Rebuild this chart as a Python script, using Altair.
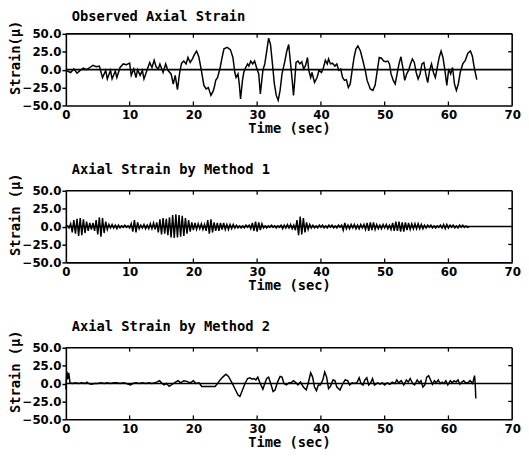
import altair as alt
import pandas as pd

TITLES = ["Observed Axial Strain", "Axial Strain by Method 1", "Axial Strain by Method 2"]
Y_TITLES = ["Strain(\u03bc)", "Strain (\u03bc)", "Strain (\u03bc)"]
X_TITLE = "Time (sec)"
X_TICKS = [0, 10, 20, 30, 40, 50, 60, 70]
Y_TICKS = [-50, -25, 0, 25, 50]
INNER_X_TICKS = [10, 20, 30, 40, 50, 60]
INNER_Y_TICKS = [-25, 25]

# Observed axial strain (time in sec, strain in micro)
obs_t = [0, 0.75, 1.25, 1.75, 2.25, 2.75, 3.25, 3.75, 4.25, 4.75,
         5.25, 5.75, 6.25, 6.5, 7.0, 7.25, 7.75, 8.0, 8.5, 9.0,
         9.5, 10.0, 10.25, 10.65, 11.0, 11.25, 11.65, 12.0, 12.25, 12.75,
         13.15, 13.5, 13.85, 14.15, 14.5, 14.75, 15.25, 15.65, 16.0, 16.5,
         16.85, 17.15, 17.5, 17.85, 18.15, 18.5, 18.85, 19.15, 19.5, 19.85,
         20.15, 20.5, 20.85, 21.25, 21.65, 22.0, 22.35, 22.75, 23.1, 23.3,
         23.5, 23.8, 24.2, 24.5, 24.8, 25.3, 25.8, 26.2, 26.5, 26.7,
         27.0, 27.2, 27.4, 27.7, 27.9, 28.2, 28.5, 28.7, 29.0, 29.3,
         29.6, 29.9, 30.25, 30.5, 30.9, 31.2, 31.5, 31.8, 32.1, 32.4,
         32.7, 33.0, 33.3, 33.6, 33.9, 34.35, 34.65, 34.95, 35.2, 35.5,
         35.7, 35.9, 36.1, 36.4, 36.7, 37.0, 37.3, 37.6, 37.9, 38.1,
         38.4, 38.6, 39.0, 39.4, 39.7, 40.1, 40.4, 40.7, 41.0, 41.2,
         41.5, 41.8, 42.2, 42.5, 42.8, 43.1, 43.4, 43.7, 44.0, 44.3,
         44.6, 44.9, 45.2, 45.5, 45.8, 46.2, 46.6, 47.0, 47.25, 47.75,
         48.15, 48.5, 48.85, 49.15, 49.5, 49.85, 50.15, 50.5, 50.75, 51.0,
         51.35, 51.65, 51.95, 52.25, 52.55, 52.85, 53.15, 53.45, 53.75, 54.05,
         54.35, 54.65, 54.95, 55.25, 55.55, 55.85, 56.15, 56.45, 56.75, 57.05,
         57.35, 57.65, 57.95, 58.25, 58.55, 58.85, 59.15, 59.45, 59.75, 60.05,
         60.35, 60.65, 60.95, 61.25, 61.55, 61.85, 62.25, 62.65, 63.05, 63.45,
         63.75, 64.05, 64.45]
obs_v = [-1, -4, 1, -5, -1, 2, 0, 3, 6, 4,
         5, -11, -1, -13, -1, -13, -2, -11, 3, 8,
         7, 9, -8, 1, -11, 0, -8, -1, -13, 0,
         10, 3, 13, 4, 1, 8, -4, 8, -1, -6,
         -20, -8, -28, -4, 9, 12, 8, 17, 10, 15,
         21, 26, 18, -1, -22, -27, -25, -36, -30, -24,
         -15, -11, 3, 17, 29, 31, 28, 17, -4, -11,
         -6, -20, -41, -15, -4, 3, 8, 5, 12, 8,
         12, 3, -6, -34, -1, 8, 26, 44, 35, 8,
         -20, -36, -43, -29, -6, 12, 26, 35, 12, -15,
         -36, -15, 10, 12, 8, 11, 1, 6, 17, -1,
         -11, -4, -18, -11, -1, -4, 3, 13, 8, 15,
         8, 9, 5, 8, -1, 1, -11, -15, -14, -25,
         -20, -1, 17, 29, 33, 26, 12, -3, -15, -27,
         -29, -22, -1, 17, 16, 12, 11, 12, 8, -6,
         -15, -20, -6, 8, 18, 3, -15, -6, -1, 8,
         15, 10, -4, -13, -6, 8, 10, -6, -18, -1,
         8, -4, -11, 3, 17, 26, 17, -1, -22, 1,
         -6, 3, -20, -29, -20, -4, 8, 13, 23, 26,
         19, 3, -14]

# Method 1: sampled every 0.25 sec (four samples per second)
m1_step = 0.25
m1_v = [0, 1, -2, 4,   -8, 9, -10, 11,   -13, 12, -12, 10,   -9, 7, -6, 5,
        -4, 5, -6, 9,   -11, 13, -14, 12,   -9, 7, -4, 3,   -2, 3, -2, 2,
        -3, 2, -2, 1,   -1, 2, -1, 1,   -2, 4, -7, 9,   -8, 6, -3, 2,
        -2, 3, -3, 2,   -3, 4, -3, 5,   -4, 6, -8, 10,   -11, 12, -10, 11,
        -12, 13, -15, 16,   -16, 17, -15, 16,   -14, 15, -13, 12,   -10, 9, -7, 6,
        -5, 5, -4, 4,   -3, 4, -4, 3,   -6, 9, -10, 10,   -8, 6, -6, 5,
        -6, 5, -4, 5,   -4, 3, -4, 3,   -3, 3, -2, 2,   -2, 1, -2, 1,
        -2, 2, -1, 2,   -3, 5, -6, 7,   -7, 6, -5, 4,   -2, 1, -2, 1,
        -1, 2, -1, 1,   -2, 1, -1, 2,   -3, 2, -2, 3,   -2, 3, -3, 2,
        -5, 9, -12, 14,   -11, 12, -8, 6,   -4, 3, -2, 2,   -2, 1, -2, 2,
        -1, 2, -2, 1,   -2, 2, -1, 2,   -2, 1, -2, 2,   -1, 2, -5, 5,
        -3, 2, -3, 3,   -2, 3, -3, 2,   -3, 3, -2, 3,   -4, 5, -6, 6,
        -5, 6, -4, 3,   -3, 2, -3, 3,   -2, 3, -3, 2,   -4, 5, -6, 7,
        -6, 7, -7, 6,   -7, 6, -5, 5,   -4, 4, -3, 4,   -3, 4, -3, 3,
        -3, 2, -2, 2,   -1, 2, -2, 1,   -2, 1, -1, 2,   -2, 3, -3, 3,
        -2, 2, -1, 2,   -2, 1, -2, 2,   -1, 2, -1, 1,   -1, 0]
m1_t = [i * m1_step for i in range(len(m1_v))]

# Method 2
m2_t = [0, 0.15, 0.3, 0.45, 0.65, 1.0, 1.5, 2.0, 2.5, 3.0,
        3.3, 3.6, 4.0, 4.5, 5.0, 5.5, 6.0, 6.5, 7.0, 7.5,
        8.0, 8.5, 9.0, 9.5, 10.1, 10.5, 11.0, 11.5, 12.0, 12.5,
        13.0, 13.5, 14.0, 14.7, 15.1, 15.4, 15.8, 16.2, 16.7, 17.2,
        17.6, 18.0, 18.5, 19.0, 19.5, 20.0, 20.4, 20.9, 21.3, 21.7,
        22.3, 22.9, 23.4, 23.8, 24.1, 24.6, 25.1, 25.5, 26.0, 26.5,
        27.0, 27.3, 27.7, 28.1, 28.5, 28.9, 29.2, 29.5, 29.8, 30.1,
        30.4, 30.6, 30.9, 31.2, 31.5, 31.8, 32.2, 32.5, 32.8, 33.2,
        33.6, 33.9, 34.2, 34.6, 35.0, 35.3, 35.7, 36.1, 36.4, 36.8,
        37.25, 37.7, 38.0, 38.4, 38.7, 39.0, 39.3, 39.6, 39.9, 40.3,
        40.6, 40.9, 41.2, 41.5, 41.9, 42.2, 42.5, 43.0, 43.4, 43.8,
        44.2, 44.5, 44.9, 45.3, 45.7, 46.0, 46.3, 46.6, 46.9, 47.2,
        47.5, 47.8, 48.1, 48.4, 48.9, 49.3, 49.6, 50.0, 50.4, 50.8,
        51.2, 51.6, 51.9, 52.2, 52.6, 53.0, 53.4, 53.7, 54.0, 54.4,
        54.7, 55.1, 55.4, 55.7, 56.0, 56.3, 56.6, 56.9, 57.2, 57.5,
        57.8, 58.1, 58.4, 58.7, 59.0, 59.3, 59.6, 59.9, 60.3, 60.6,
        60.9, 61.2, 61.5, 61.8, 62.1, 62.4, 62.7, 63.05, 63.4, 63.8,
        64.1, 64.2, 64.3]
m2_v = [-8, 17, 6, 15, 1, 0, 1, 0, 1, 0,
        2, 0, -1, 0, 0, 1, 0, 1, 0, 1,
        1, 0, 1, 0, -2, 0, 1, 0, 1, 0,
        1, 0, 1, 4, 0, -2, 0, -4, -1, 2,
        4, 1, 4, 3, 1, 4, 0, 1, -4, -4,
        -4, -4, -4, 0, 4, 9, 13, 10, 2, -7,
        -16, -18, -9, 0, 7, 8, 6, 7, 5, 9,
        2, -2, -8, 0, 7, 9, -2, -11, -9, 2,
        10, 9, 0, -2, 1, 1, 4, 1, -2, 2,
        -5, -9, 0, 15, 9, -5, -10, -2, -2, 5,
        16, 9, -7, -4, 5, 4, -5, -9, -1, 5,
        4, -2, 1, 0, 2, 8, 0, -2, 5, 8,
        -2, 1, 7, -2, 1, -1, 1, -2, 1, -1,
        2, 0, 5, 1, 4, -2, 5, 2, 7, 0,
        -2, 5, 1, 4, -5, -2, 9, 11, 5, -1,
        4, 1, 5, 0, 2, 0, 4, -2, 4, 1,
        4, 2, 5, -1, 2, 4, 1, 1, 4, 0,
        11, 0, -21]

assert len(obs_t) == len(obs_v), (len(obs_t), len(obs_v))
assert len(m2_t) == len(m2_v), (len(m2_t), len(m2_v))

W, H = 455, 73
MONO = "DejaVu Sans Mono"
SANS = "DejaVu Sans"
BORDER = 1.6


def panel(ts, vs, title, ytitle):
    df = pd.DataFrame({"t": ts, "v": vs})
    x = alt.X("t:Q", scale=alt.Scale(domain=[0, 70], nice=False, zero=False),
              axis=alt.Axis(values=X_TICKS, title=X_TITLE, grid=False, domain=True,
                            domainColor="black", domainWidth=BORDER,
                            tickSize=0, labelPadding=4, labelFlush=False, labelOverlap=False,
                            labelFont=SANS, labelFontSize=12, labelFontWeight="bold",
                            labelColor="black", titleFont=MONO, titleFontSize=14,
                            titleFontWeight="bold", titleColor="black", titlePadding=2))
    y = alt.Y("v:Q", scale=alt.Scale(domain=[-50, 50], nice=False),
              axis=alt.Axis(values=Y_TICKS, format=".1f", title=ytitle, grid=False,
                            domain=True, domainColor="black", domainWidth=BORDER,
                            tickSize=4, tickWidth=1.5, tickColor="black",
                            labelPadding=1, labelFont=SANS, labelFontSize=12,
                            labelFontWeight="bold", labelColor="black", labelFlush=False,
                            labelOverlap=False, titleFont=MONO, titleFontSize=14,
                            titleFontWeight="bold", titleColor="black", titlePadding=0,
                            titleY=24))
    line = alt.Chart(df).mark_line(color="black", strokeWidth=1.5).encode(x=x, y=y)
    zero = alt.Chart(pd.DataFrame({"v": [0]})).mark_rule(color="black", strokeWidth=1.6).encode(y=y)
    tick_df = pd.DataFrame({"t": INNER_X_TICKS})
    top = alt.Chart(tick_df).mark_rule(color="black", strokeWidth=1.3).encode(
        x=x, y=alt.value(0), y2=alt.value(4))
    bottom = alt.Chart(tick_df).mark_rule(color="black", strokeWidth=1.3).encode(
        x=x, y=alt.value(H - 4), y2=alt.value(H))
    right = alt.Chart(pd.DataFrame({"v": INNER_Y_TICKS})).mark_rule(color="black", strokeWidth=1.3).encode(
        y=y, x=alt.value(W - 4), x2=alt.value(W))
    frame_top = alt.Chart(pd.DataFrame({"v": [50]})).mark_rule(color="black", strokeWidth=BORDER).encode(
        y=alt.value(0), x=alt.value(0), x2=alt.value(W))
    frame_right = alt.Chart(pd.DataFrame({"v": [50]})).mark_rule(color="black", strokeWidth=BORDER).encode(
        x=alt.value(W), y=alt.value(0), y2=alt.value(H))
    return alt.layer(line, zero, top, bottom, right, frame_top, frame_right).properties(
        width=W, height=H,
        title=alt.TitleParams(text=title, anchor="start", frame="group", dx=6, offset=-4,
                              font=MONO, fontSize=14, fontWeight="bold", color="black"))


chart = alt.vconcat(
    panel(obs_t, obs_v, TITLES[0], Y_TITLES[0]),
    panel(m1_t, m1_v, TITLES[1], Y_TITLES[1]),
    panel(m2_t, m2_v, TITLES[2], Y_TITLES[2]),
    spacing=27,
).properties(
    padding={"left": 0, "top": -2, "right": 0, "bottom": 0}
).configure_view(
    stroke=None
)

chart.save("out.html", embed_options={"renderer": "svg", "actions": False})
